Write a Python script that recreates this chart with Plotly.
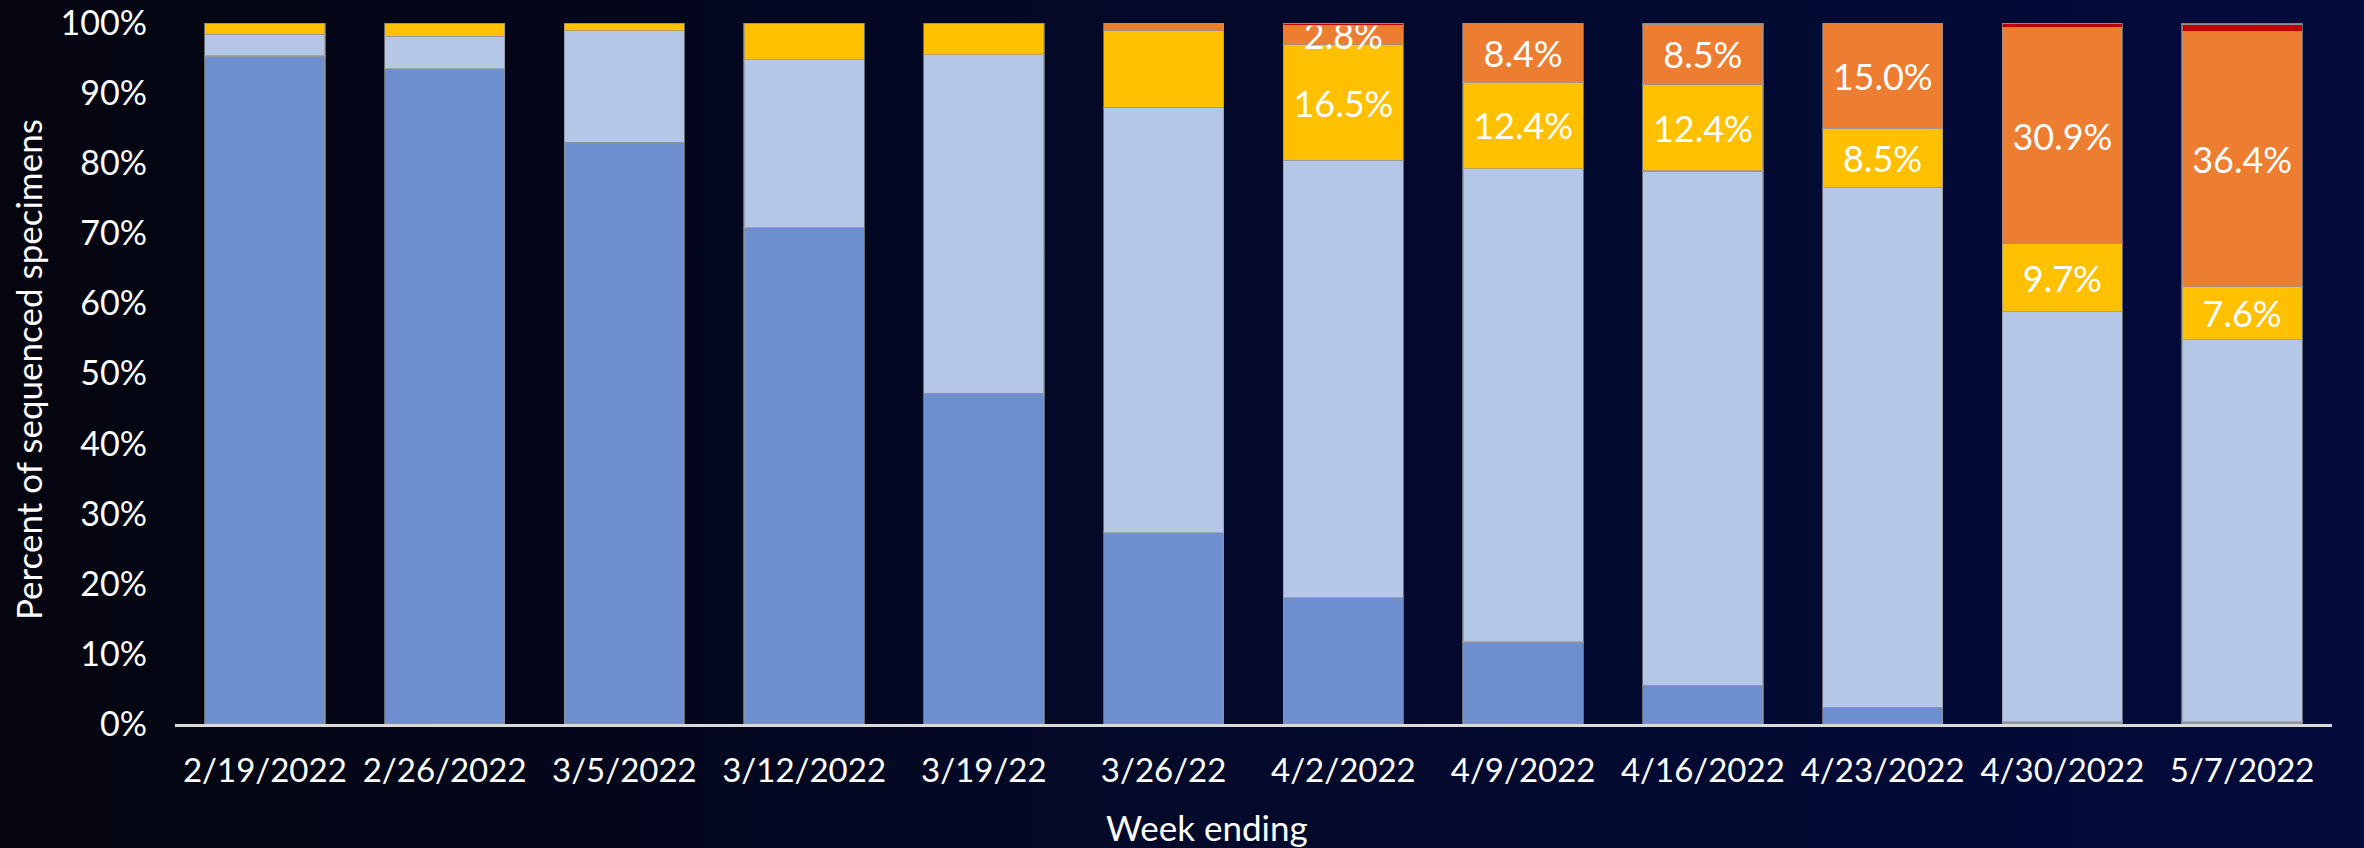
import base64
import plotly.graph_objects as go

weeks = ["2/19/2022", "2/26/2022", "3/5/2022", "3/12/2022", "3/19/22", "3/26/22",
         "4/2/2022", "4/9/2022", "4/16/2022", "4/23/2022", "4/30/2022", "5/7/2022"]

ba1_1 = [95.3, 93.5, 83.0, 70.8, 47.2, 27.3, 18.0, 11.7, 5.5, 2.4, 0.3, 0.3]
ba2 = [3.1, 4.6, 15.9, 24.0, 48.3, 60.7, 62.4, 67.5, 73.4, 74.1, 58.5, 54.5]
ba2_12 = [1.6, 1.9, 1.1, 5.2, 4.5, 10.9, 16.5, 12.4, 12.4, 8.5, 9.7, 7.6]
ba2_12_1 = [0.0, 0.0, 0.0, 0.0, 0.0, 1.1, 2.8, 8.4, 8.5, 15.0, 30.9, 36.4]
ba4 = [0.0, 0.0, 0.0, 0.0, 0.0, 0.0, 0.3, 0.0, 0.2, 0.0, 0.6, 1.0]
ba5 = [0.0, 0.0, 0.0, 0.0, 0.0, 0.0, 0.0, 0.0, 0.0, 0.0, 0.0, 0.2]

first_labeled_week = "4/2/2022"

series = [
    ("BA.1.1", ba1_1, "#6D8FCF", False),
    ("BA.2", ba2, "#B4C7E7", False),
    ("BA.2.12", ba2_12, "#FFC000", True),
    ("BA.2.12.1", ba2_12_1, "#ED7D31", True),
    ("BA.4", ba4, "#C00000", False),
    ("BA.5", ba5, "#FF0000", False),
]

FONT = "Lato, 'Open Sans', sans-serif"
W, H = 2364, 848
L, R, T, B = 175, 32, 23, 124
pw, ph = W - L - R, H - T - B

start = weeks.index(first_labeled_week)

fig = go.Figure()
for name, vals, color, labeled in series:
    text = [(f"{v:.1f}%" if (labeled and i >= start) else "") for i, v in enumerate(vals)]
    fig.add_trace(go.Bar(
        name=name, x=weeks, y=[v / 100 for v in vals],
        marker=dict(color=color, line=dict(color="rgba(150,150,150,0.7)", width=1.2)),
        text=text, textposition="inside", insidetextanchor="middle", textangle=0,
        textfont=dict(family=FONT, size=36, color="white"),
        cliponaxis=False, showlegend=False,
    ))

svg = ('<svg xmlns="http://www.w3.org/2000/svg" width="2364" height="848" preserveAspectRatio="none">'
       '<defs><linearGradient id="g" x1="0" y1="0" x2="1" y2="0">'
       '<stop offset="0" stop-color="#04050F"/><stop offset="0.5" stop-color="#030929"/>'
       '<stop offset="1" stop-color="#030B3C"/></linearGradient></defs>'
       '<rect width="2364" height="848" fill="url(#g)"/></svg>')
src = "data:image/svg+xml;base64," + base64.b64encode(svg.encode()).decode()

fig.update_layout(
    width=W, height=H,
    margin=dict(l=L, r=R, t=T, b=B, autoexpand=False),
    barmode="stack", bargap=0.332,
    paper_bgcolor="#030828", plot_bgcolor="rgba(0,0,0,0)",
    uniformtext=dict(minsize=36, mode="show"),
    font=dict(family=FONT, color="white"),
    images=[dict(source=src, xref="paper", yref="paper", x=-L / pw, y=1 + T / ph,
                 sizex=W / pw, sizey=H / ph, sizing="stretch", xanchor="left",
                 yanchor="top", layer="below")],
    xaxis=dict(showline=True, linecolor="#D9D9D9", linewidth=3, showgrid=False,
               ticks="", tickfont=dict(family=FONT, size=33, color="white"),
               ticklabelstandoff=15),
    yaxis=dict(range=[0, 1.0001], tickvals=[i / 10 for i in range(11)], tickformat=".0%",
               showgrid=False, zeroline=False, showline=False, ticks="",
               tickfont=dict(family=FONT, size=34, color="white"),
               ticklabelstandoff=27, ticklabeloverflow="allow"),
    annotations=[
        dict(text="Week ending", xref="paper", yref="paper",
             x=(1207 - L) / pw, y=-(827 - (H - B)) / ph, xanchor="center", yanchor="middle",
             showarrow=False, font=dict(family=FONT, size=35, color="white")),
        dict(text="Percent of sequenced specimens", xref="paper", yref="paper",
             x=(28 - L) / pw, y=((H - B) - 370) / ph, xanchor="center", yanchor="middle",
             textangle=-90, showarrow=False, font=dict(family=FONT, size=35, color="white")),
    ],
)

fig.write_html("out.html", config={"displayModeBar": False},
               post_script="document.body.style.margin='0';document.body.style.background='#030828';")
